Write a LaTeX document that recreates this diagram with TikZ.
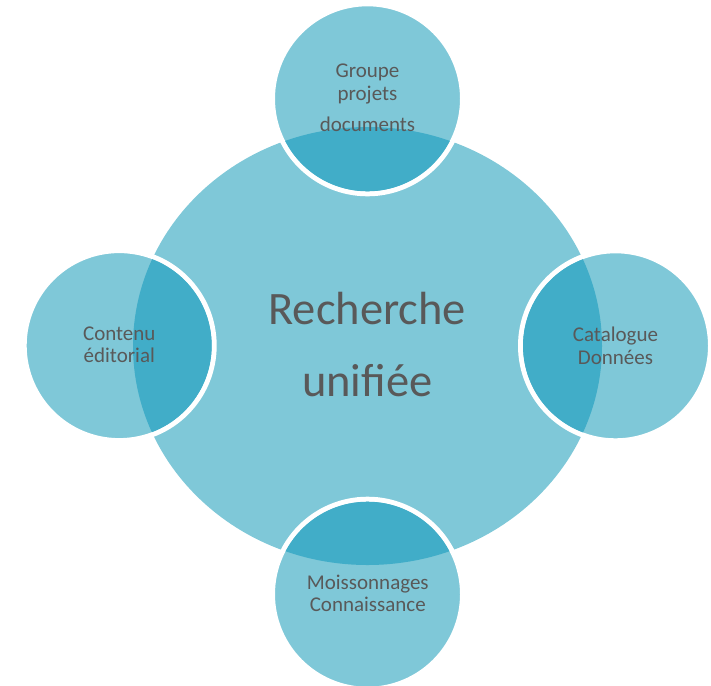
\documentclass[tikz,border=0pt]{standalone}
\usepackage{fontspec}
\setmainfont{Carlito}
\definecolor{lightc}{HTML}{7FC8D8}
\definecolor{darkc}{HTML}{41ADC8}
\definecolor{txtc}{HTML}{595959}
\tikzset{
  smalltext/.style={anchor=base, align=center, inner sep=0pt, text=txtc,
    font=\fontsize{21}{22.5}\selectfont},
  bigtext/.style={anchor=base, align=center, inner sep=0pt, text=txtc,
    font=\fontsize{46.5}{72}\selectfont},
  satfill/.style={fill=lightc, draw=white, line width=5pt},
}
\begin{document}
\begin{tikzpicture}[x=1pt,y=-1pt]
\useasboundingbox (0,0) rectangle (711,685);
% centre ellipse
\fill[lightc] (367.5,346) ellipse [x radius=234.5, y radius=219];
% satellites
\foreach \n/\cx/\cy in {top/367.5/98.8, left/119.2/345.6, right/615.5/345.8, bottom/367.5/594.2}{
  \coordinate (\n) at (\cx,\cy);
  \path[satfill] (\n) circle [radius=95];
  \begin{scope}
    \clip (\n) circle [radius=92.5];
    \fill[darkc] (367.5,346) ellipse [x radius=234.5, y radius=219];
  \end{scope}
}
% text nodes: base anchor = baseline of last line
\node[bigtext] (main) at (367.3,396) {Recherche\\unifiée};
\node[smalltext] (t1) at (367.5,131) {Groupe\\projets\\[8.5pt]documents};
\node[smalltext] (t2) at (119.3,362.5) {Contenu\\éditorial};
\node[smalltext] (t3) at (615.5,364) {Catalogue\\Données};
\node[smalltext] (t4) at (367.8,611.7) {Moissonnages\\Connaissance};
\end{tikzpicture}
\end{document}
